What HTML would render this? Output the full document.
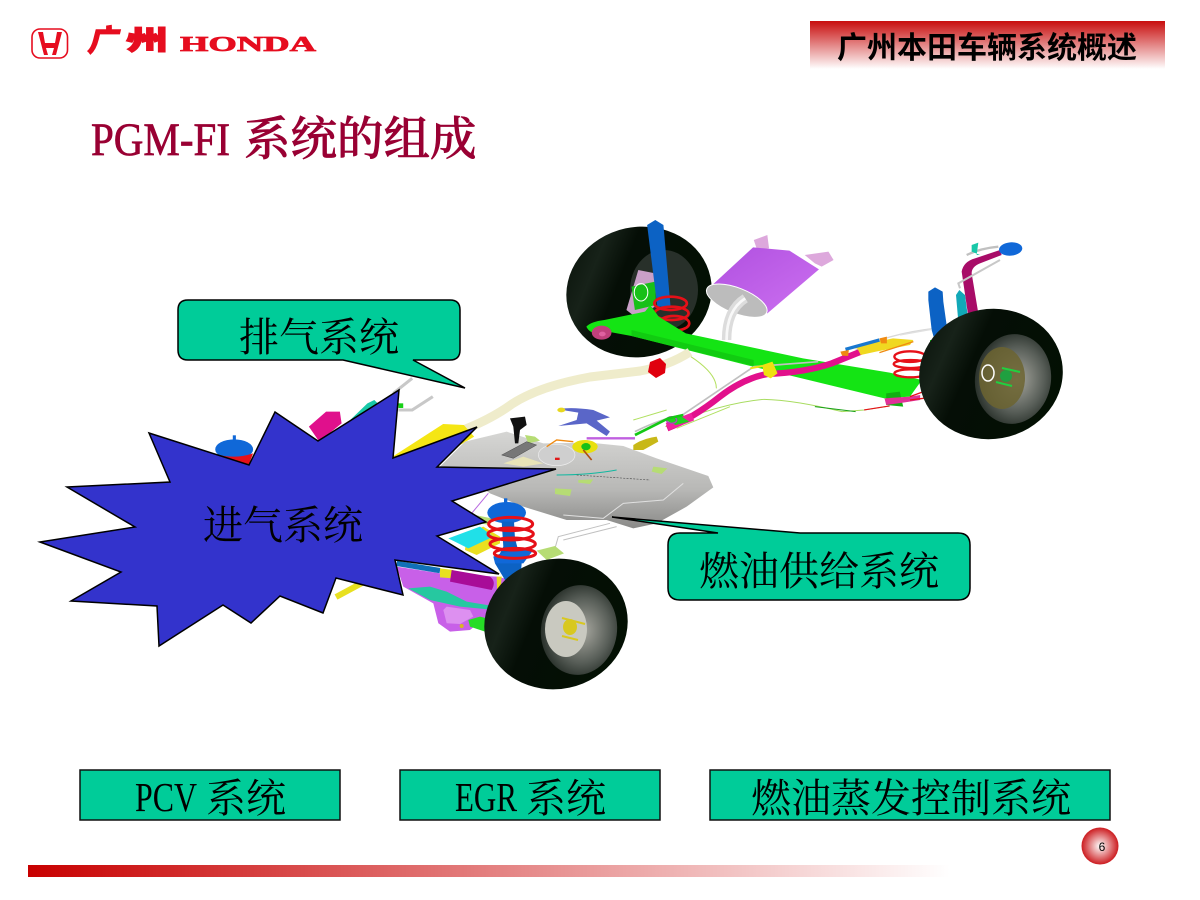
<!DOCTYPE html>
<html lang="zh"><head><meta charset="utf-8"><title>PGM-FI 系统的组成</title>
<style>html,body{margin:0;padding:0;background:#fff}svg{display:block}
.z{font-family:"Noto Serif CJK SC","Liberation Serif",serif;font-size:40px;fill:#000}
.l{font-family:"Liberation Serif",serif;font-size:41px;fill:#000}
</style></head><body>
<svg xmlns="http://www.w3.org/2000/svg" width="1200" height="900" viewBox="0 0 1200 900">
<defs>
<linearGradient id="hd" x1="0" y1="0" x2="0" y2="1"><stop offset="0" stop-color="#c80d0d"/><stop offset="1" stop-color="#fff"/></linearGradient>
<linearGradient id="bar" x1="0" y1="0" x2="1" y2="0"><stop offset="0" stop-color="#c80000"/><stop offset="1" stop-color="#fff"/></linearGradient>
<radialGradient id="pg"><stop offset="0" stop-color="#fff"/><stop offset="1" stop-color="#cc1c20"/></radialGradient>
<radialGradient id="rim" cx=".55" cy=".5" r=".6"><stop offset="0" stop-color="#a8a8a0"/><stop offset=".6" stop-color="#585e58"/><stop offset="1" stop-color="#1c241e"/></radialGradient>
<linearGradient id="tire" x1="0" y1="0" x2="1" y2=".6"><stop offset="0" stop-color="#050e06"/><stop offset=".28" stop-color="#172219"/><stop offset=".45" stop-color="#050e06"/><stop offset="1" stop-color="#031003"/></linearGradient>
<linearGradient id="tank" x1="0" y1="0" x2="0" y2="1"><stop offset="0" stop-color="#d6d6d4"/><stop offset=".6" stop-color="#b8b8b6"/><stop offset="1" stop-color="#8a8a88"/></linearGradient>
<linearGradient id="muf" x1="0" y1="0" x2="1" y2="1"><stop offset="0" stop-color="#b050e0"/><stop offset="1" stop-color="#cc70f0"/></linearGradient>
</defs>
<rect width="1200" height="900" fill="#fff"/>

<!-- logo -->
<rect x="32" y="29" width="35.5" height="29" rx="8" fill="none" stroke="#e60d1f" stroke-width="1.6"/>
<path d="M38 32 L43 32 L45 43 L55 43 L57 32 L62 32 L56 55 L52 55 L54 48 L46 48 L48 55 L44 55Z" fill="#e60d1f"/>
<g fill="#e60d1f" stroke="#e60d1f">
<text x="0" y="0" transform="translate(87,51) skewX(-14)" font-family="'Noto Sans CJK SC',sans-serif" font-weight="900" font-size="30" stroke-width=".8" textLength="30" lengthAdjust="spacingAndGlyphs">广</text>
<text x="126" y="50" font-family="'Noto Sans CJK SC',sans-serif" font-weight="900" font-size="27" stroke-width="1" textLength="42" lengthAdjust="spacingAndGlyphs">州</text>
<text x="180" y="51" font-family="'Liberation Serif',serif" font-weight="bold" font-size="21" stroke-width=".7" textLength="136" lengthAdjust="spacingAndGlyphs">HONDA</text></g>

<!-- header -->
<rect x="810" y="21" width="355" height="48" fill="url(#hd)"/>
<text x="837" y="58" font-family="'Noto Sans CJK SC',sans-serif" font-weight="bold" font-size="30" fill="#000">广州本田车辆系统概述</text>

<!-- title -->
<g fill="#990033" stroke="#990033" stroke-width=".7">
<text x="91" y="155" font-family="'Liberation Serif',serif" font-size="47" textLength="139" lengthAdjust="spacingAndGlyphs">PGM-FI</text>
<text x="244" y="155" font-family="'Noto Serif CJK SC',serif" font-size="46.5" font-weight="500">系统的组成</text>
</g>

<!-- REAR LEFT WHEEL -->
<ellipse cx="639" cy="292" rx="73" ry="65" fill="url(#tire)" transform="rotate(-12 639 292)"/>
<ellipse cx="664" cy="290" rx="34" ry="40" fill="#28302a"/>

<!-- rear group, zoom coordinates -->
<g transform="translate(550,210) scale(.3396,.3333)">
<path d="M225 300 L260 180 L310 190 L310 290 L250 320Z" fill="#c9a0c8"/>
<path d="M240 230 L310 215 L312 285 L250 300Z" fill="#18c018"/>
<ellipse cx="268" cy="247" rx="20" ry="26" fill="none" stroke="#fff" stroke-width="3"/>
<path d="M286 45 L310 30 L334 45 L355 290 L316 290 Z" fill="#0c62c4"/>
<!-- muffler -->
<path d="M600 90 L640 75 L645 115 L610 120Z" fill="#dda8dc"/>
<path d="M750 135 L820 125 L835 150 L800 170 L780 160Z" fill="#dda8dc"/>
<path d="M478 225 L598 112 L705 122 L792 178 L640 310 Z" fill="url(#muf)"/>
<ellipse cx="550" cy="272" rx="95" ry="38" fill="#bcbcbc" stroke="#fff" stroke-width="3" transform="rotate(22 550 272)"/>
<path d="M575 265 Q520 300 520 390" fill="none" stroke="#dcdcdc" stroke-width="28"/>
<path d="M575 265 Q520 300 520 390" fill="none" stroke="#f8f8f8" stroke-width="8"/>
<!-- rear left spring -->
<g fill="none" stroke="#e61018" stroke-width="8">
<ellipse cx="355" cy="280" rx="48" ry="20"/><ellipse cx="358" cy="310" rx="50" ry="20"/><ellipse cx="365" cy="340" rx="45" ry="22"/>
</g>
<!-- exhaust tip + clamp -->
<path d="M270 478 L300 475" stroke="#22d8e8" stroke-width="12"/>
<!-- beam -->
<path d="M107 350 Q120 335 160 330 L280 305 L295 285 L320 320 L400 370 L745 445 L1000 488 L1095 510 L1060 560 L985 565 L590 468 L240 378 L170 365 Q120 380 107 350Z" fill="#14e414"/>
<path d="M240 360 L600 450 L600 468 L240 378Z" fill="#11cc11"/>
<ellipse cx="152" cy="368" rx="29" ry="21" fill="#c0407c"/><ellipse cx="154" cy="372" rx="10" ry="7" fill="#e060a0"/>
<path d="M990 550 L1030 545 L1040 590 L990 585Z" fill="#12b012"/>
<path d="M985 565 L1060 560 L1090 555 L1090 570 L1040 578 L990 585Z" fill="#e03098"/>
<path d="M1060 560 L1100 545 M1060 570 L1100 565" stroke="#e61018" stroke-width="4"/>
<!-- thin lines -->
<g fill="none">
<path d="M415 440 Q490 490 490 535" stroke="#b4e060" stroke-width="3"/>
<path d="M340 650 Q500 580 630 568 Q720 570 860 605 L925 600 L1000 588" stroke="#a8dc60" stroke-width="3"/>
<path d="M925 600 L1000 588" stroke="#e61018" stroke-width="3.5"/>
<path d="M780 590 L900 605" stroke="#18a018" stroke-width="3"/>
<path d="M250 665 Q330 625 390 615 Q470 560 600 470 L790 455" stroke="#c0c0c0" stroke-width="5"/>
<path d="M900 420 Q1000 370 1135 355" stroke="#d8d8d8" stroke-width="4"/>
</g>
<!-- magenta pipe -->
<path d="M345 655 Q420 625 500 560 Q570 505 640 492 Q750 488 830 460 L915 425" fill="none" stroke="#e2108c" stroke-width="19"/>
<path d="M345 650 L420 620" stroke="#f020a0" stroke-width="24"/>
<path d="M870 415 L1010 385 L1070 390 L1060 405 L960 425 L915 435 L905 415Z" fill="#f0d820"/>
<path d="M870 418 L970 390" stroke="#1878d0" stroke-width="10"/>
<path d="M855 425 L880 420 L878 438 L860 437Z M970 385 L992 380 L992 400 L975 400Z" fill="#f08a10"/>
<path d="M970 428 L1070 395" stroke="#f08a10" stroke-width="4"/>
<path d="M625 465 L655 455 L670 490 L650 505 L630 495Z" fill="#f0e010"/>
<path d="M590 475 L625 468" stroke="#f0e010" stroke-width="6"/>
<path d="M340 630 L385 618 L410 635 L370 645Z" fill="#20d020"/>
<ellipse cx="358" cy="630" rx="15" ry="10" fill="none" stroke="#b040c0" stroke-width="4"/>
<!-- right spring -->
<g fill="none" stroke="#e61018" stroke-width="7">
<ellipse cx="1060" cy="440" rx="46" ry="16"/><ellipse cx="1062" cy="462" rx="50" ry="12"/><ellipse cx="1062" cy="490" rx="48" ry="12"/>
</g>
</g>

<!-- exhaust pipe + red silencer joint -->
<path d="M458 432 Q490 420 512 404 Q540 386 590 377 L640 371 Q668 366 690 352" fill="none" stroke="#efeccb" stroke-width="9"/>
<path d="M650 362 L660 358 L666 364 L665 373 L656 378 L648 372Z" fill="#e0000e"/>

<!-- rear right shocks & pipe -->
<g transform="translate(900,230) scale(.3333)">
<path d="M185 125 Q190 95 225 85 L300 60 L305 75 L240 100 Q215 110 215 130 L235 250 L205 260Z" fill="#a80c68"/>
<path d="M180 175 L175 160 L300 90" fill="none" stroke="#c8c8c8" stroke-width="6"/>
<path d="M200 75 Q240 55 295 50" fill="none" stroke="#c0c0c0" stroke-width="7"/>
<path d="M215 45 L235 38 L230 75 L240 75 L215 65Z" fill="#18c8a8"/>
<ellipse cx="332" cy="57" rx="35" ry="20" fill="#1068d8" transform="rotate(-5 332 57)"/>
<path d="M168 195 L178 180 L195 195 L205 270 L175 275 Z" fill="#12a8b8"/>
<path d="M85 210 L85 185 L105 172 L128 185 L130 215 L142 300 L105 335 L95 300Z" fill="#0c62c4"/>
<path d="M0 315 L95 298" stroke="#e0e0e0" stroke-width="4"/>
<path d="M90 330 L103 330 L103 344 L90 344Z" fill="#14d814"/>
</g>
<ellipse cx="991" cy="374" rx="72" ry="65" fill="url(#tire)" transform="rotate(-10 991 374)"/>
<ellipse cx="1013" cy="379" rx="38" ry="45" fill="url(#rim)" transform="rotate(8 1013 379)"/>
<ellipse cx="1002" cy="378" rx="23" ry="31" fill="#6c6430" opacity=".85"/>
<ellipse cx="1006" cy="376" rx="6" ry="6" fill="#20a040"/>
<path d="M1002 368 L1020 372 M996 382 L1012 386" stroke="#20d040" stroke-width="2"/>
<ellipse cx="988" cy="373" rx="6" ry="8" fill="none" stroke="#fff" stroke-width="1.5"/>

<!-- front left parts & tank -->
<g transform="translate(30,290) scale(.3443,.3333)">
<path d="M1053 500 L1200 402 L1260 405 L1290 440 L1160 520Z" fill="#f5e614"/>
<ellipse cx="593" cy="478" rx="55" ry="30" fill="#1068d8"/>
<path d="M589 436 H598 V465 H589Z" fill="#1068d8"/>
<path d="M535 490 Q590 510 648 490 L635 525Z" fill="#e61018"/>
<path d="M810 410 L860 365 L900 365 L905 400 L840 455Z" fill="#e0108c"/>
<path d="M930 390 L980 340 L1000 330 L1010 340 L950 400Z" fill="#18c8a8"/>
<path d="M1055 310 L1110 265 M1070 360 L1110 360 L1170 320" fill="none" stroke="#c8c8c8" stroke-width="9"/>
<rect x="1070" y="340" width="14" height="14" fill="#18d018"/>
</g>

<g transform="translate(390,400) scale(.3333)">
<path d="M150 200 L225 125 L350 95 L460 130 L600 128 L700 138 L800 175 L955 228 L970 262 L890 320 L800 370 L730 385 L650 360 L530 360 L400 320 L300 280 L200 210Z" fill="url(#tank)"/>
<path d="M520 345 L640 355 L700 310 L820 300 L880 250" fill="none" stroke="#e0e0e0" stroke-width="3"/>
<path d="M500 225 Q600 225 680 210" fill="none" stroke="#10b8a0" stroke-width="3"/>
<path d="M560 225 L780 240" stroke="#555" stroke-width="2" stroke-dasharray="6 4"/>
<path d="M405 105 L435 110 L450 122 L415 130Z M790 200 L832 205 L815 222 L785 215Z M495 265 L545 268 L540 288 L495 282Z M565 240 L610 238 L600 252 L565 248Z" fill="#b6dc74"/>
<path d="M340 190 L400 170 L460 190 L400 200Z" fill="#e8e4b8"/>
<!-- shifter -->
<path d="M360 55 L405 50 L410 75 L390 90 L385 130 L375 130 L370 80Z" fill="#111"/>
<path d="M335 165 L410 125 L440 135 L370 175Z" fill="#777" stroke="#222"/>
<ellipse cx="500" cy="165" rx="55" ry="32" fill="#cfcfcf" stroke="#eee" stroke-width="2"/>
<rect x="495" y="173" width="14" height="7" fill="#e01818"/>
<ellipse cx="585" cy="140" rx="38" ry="20" fill="#e8e010"/><ellipse cx="588" cy="140" rx="14" ry="11" fill="#18c018"/>
<path d="M470 140 L500 120 L550 125" fill="none" stroke="#f08a10" stroke-width="4"/>
<path d="M580 150 L605 180" stroke="#b05010" stroke-width="5"/>
<!-- brake unit -->
<path d="M505 28 Q540 20 610 30 L660 52 L620 62 L660 95 L650 108 L590 70 L505 78 L560 60 L565 38 Z" fill="#5a66c8"/>
<ellipse cx="514" cy="30" rx="12" ry="7" fill="#e8d820"/>
<path d="M590 115 L735 115" stroke="#c060e0" stroke-width="7"/>
<path d="M730 135 Q760 115 800 110 L805 125 L760 150 L730 150Z" fill="#c8b818"/>
<path d="M735 105 L835 55 L880 45" fill="none" stroke="#14c814" stroke-width="8"/>
<path d="M730 60 L830 30" stroke="#b0e060" stroke-width="3"/><path d="M860 85 L1020 20" stroke="#b0e060" stroke-width="3"/>
<!-- fuel lines -->
<path d="M660 370 L505 410 L495 445 M680 380 L520 420" fill="none" stroke="#c0c0c0" stroke-width="3"/>
<path d="M440 452 L495 438 L522 460 L470 480Z" fill="#b6dc74"/>
<!-- subframe -->
<path d="M20 500 L150 520 L320 530 L365 540 L340 600 L290 650 L240 690 L180 695 L145 670 L130 610 L40 560Z" fill="#c860e8"/>
<path d="M160 630 L170 620 L240 630 L250 650 L210 672 L170 670Z" fill="#dd90f0"/>
<path d="M20 490 L150 512" stroke="#1070b8" stroke-width="16"/>
<path d="M150 505 L190 510 L190 535 L150 532Z" fill="#e8e020"/>
<path d="M185 510 L300 530 Q320 545 305 570 L180 545Z" fill="#a80c98"/>
<path d="M55 565 L120 560 L170 575 L230 605 L320 620 L315 630 L210 620 L120 600Z" fill="#26c8a0"/>
<path d="M235 660 L270 650 L290 655 L305 640 L285 695 L240 680Z" fill="#26dc26"/>
<circle cx="215" cy="678" r="6" fill="#d8b820"/>
<!-- yellow and cyan pack -->
<path d="M230 400 L280 380 L330 410 L330 430 L260 465 L225 450Z" fill="#eadf20"/>
<path d="M175 415 L270 380 L310 410 L235 445Z" fill="#20e0e8"/>
<path d="M255 345 L305 355 L300 375 L270 370Z" fill="#b6dc74"/>
<path d="M245 340 L295 280" stroke="#b868e0" stroke-width="3"/>
<!-- strut -->
<ellipse cx="350" cy="338" rx="58" ry="32" fill="#1068d8"/>
<path d="M342 295 H352 V325 H342Z" fill="#1068d8"/>
<path d="M335 365 L372 365 L375 415 L395 490 L392 530 L345 540 L315 490 L340 440Z" fill="#0c62c4"/>
<path d="M310 470 Q360 445 430 450 L400 490 L315 490Z" fill="#1068d8"/>
<g fill="none" stroke="#e61018" stroke-width="9">
<ellipse cx="362" cy="372" rx="66" ry="20"/>
<ellipse cx="362" cy="402" rx="68" ry="18"/>
<ellipse cx="368" cy="432" rx="68" ry="18"/>
<ellipse cx="375" cy="460" rx="62" ry="15"/>
</g>
<path d="M320 530 L335 530 L330 590 L322 590Z" fill="#e8d820"/>
</g>
<path d="M336 597 L362 583" stroke="#e8e020" stroke-width="6"/>

<!-- front wheel -->
<ellipse cx="556" cy="624" rx="72" ry="65" fill="url(#tire)" transform="rotate(-12 556 624)"/>
<ellipse cx="579" cy="630" rx="38" ry="45" fill="url(#rim)" transform="rotate(8 579 630)"/>
<ellipse cx="566" cy="629" rx="21" ry="28" fill="#c9c9c0"/>
<ellipse cx="570" cy="627" rx="7" ry="8" fill="#d8c820"/>
<path d="M562 618 L585 624 M562 636 L578 640" stroke="#d8c820" stroke-width="2"/>

<!-- star -->
<polygon points="40,542 135,527 67,487 170,482 149,433 249,465 275,412 318,441 399,390 393,458 477,427 437,467 556,469 452,501 486,522 437,536 499,574 395,560 403,595 336,578 323,613 280,596 251,623 223,605 159,646 157,606 71,601 121,572" fill="#3333cc" stroke="#000" stroke-width="1.5"/>
<text x="203" y="539" class="z">进气系统</text>

<!-- exhaust callout -->
<path d="M188 300 H450 Q460 300 460 310 V350 Q460 360 450 360 H413 L465 388 L343 360 H188 Q178 360 178 350 V310 Q178 300 188 300Z" fill="#00cc99" stroke="#000" stroke-width="1.5"/>
<text x="239" y="351" class="z">排气系统</text>

<!-- fuel callout -->
<path d="M680 533 H718 L612 517 L800 533 H958 Q970 533 970 545 V588 Q970 600 958 600 H680 Q668 600 668 588 V545 Q668 533 680 533Z" fill="#00cc99" stroke="#000" stroke-width="1.5"/>
<text x="699" y="585" class="z">燃油供给系统</text>

<!-- bottom boxes -->
<rect x="80" y="770" width="260" height="50" fill="#00cc99" stroke="#111" stroke-width="1.5"/>
<rect x="400" y="770" width="260" height="50" fill="#00cc99" stroke="#111" stroke-width="1.5"/>
<rect x="710" y="770" width="400" height="50" fill="#00cc99" stroke="#111" stroke-width="1.5"/>
<text x="135" y="811" class="l" textLength="62" lengthAdjust="spacingAndGlyphs">PCV</text>
<text x="206" y="812" class="z">系统</text>
<text x="455" y="811" class="l" textLength="62" lengthAdjust="spacingAndGlyphs">EGR</text>
<text x="526" y="812" class="z">系统</text>
<text x="751" y="812" class="z">燃油蒸发控制系统</text>

<!-- page number -->
<circle cx="1100" cy="846" r="18.5" fill="url(#pg)"/>
<text x="1102" y="851" text-anchor="middle" font-family="'Liberation Sans',sans-serif" font-size="12" fill="#000">6</text>

<!-- footer bar -->
<rect x="28" y="865" width="922" height="12" fill="url(#bar)"/>
</svg>
</body></html>
